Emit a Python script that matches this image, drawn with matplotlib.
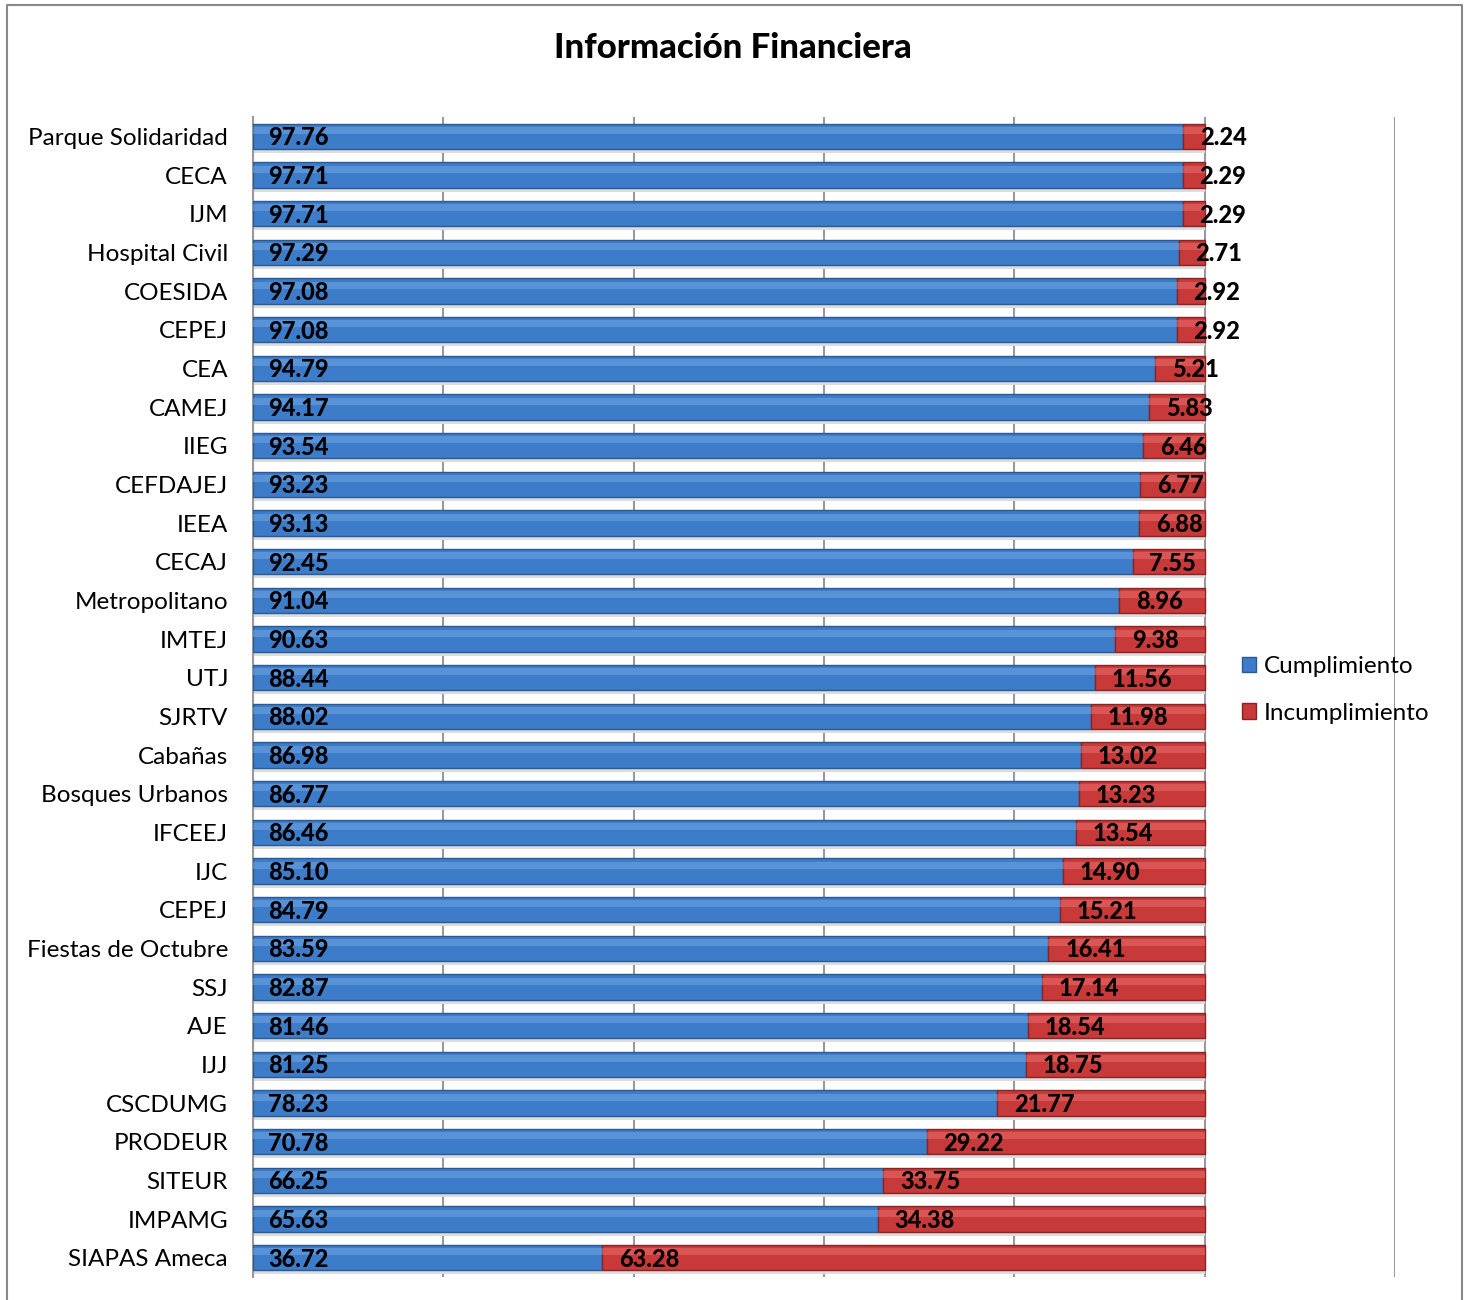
import matplotlib.pyplot as plt
from matplotlib.patches import Rectangle
from matplotlib.lines import Line2D

# data
entidades = ["Parque Solidaridad", "CECA", "IJM", "Hospital Civil", "COESIDA", "CEPEJ",
             "CEA", "CAMEJ", "IIEG", "CEFDAJEJ", "IEEA", "CECAJ", "Metropolitano",
             "IMTEJ", "UTJ", "SJRTV", "Cabañas", "Bosques Urbanos", "IFCEEJ", "IJC",
             "CEPEJ", "Fiestas de Octubre", "SSJ", "AJE", "IJJ", "CSCDUMG", "PRODEUR",
             "SITEUR", "IMPAMG", "SIAPAS Ameca"]
cumplimiento = [97.76, 97.71, 97.71, 97.29, 97.08, 97.08, 94.79, 94.17, 93.54, 93.23,
                93.13, 92.45, 91.04, 90.63, 88.44, 88.02, 86.98, 86.77, 86.46, 85.10,
                84.79, 83.59, 82.87, 81.46, 81.25, 78.23, 70.78, 66.25, 65.63, 36.72]
incumplimiento = [2.24, 2.29, 2.29, 2.71, 2.92, 2.92, 5.21, 5.83, 6.46, 6.77,
                  6.88, 7.55, 8.96, 9.38, 11.56, 11.98, 13.02, 13.23, 13.54, 14.90,
                  15.21, 16.41, 17.14, 18.54, 18.75, 21.77, 29.22, 33.75, 34.38, 63.28]

plt.rcParams['font.family'] = ['Lato', 'DejaVu Sans']

blue, blue_hi, blue_edge = "#3D7CC9", "#79B0EC", "#2A5A94"
red, red_hi, red_edge = "#C8393A", "#EE7A78", "#8A2424"

fig = plt.figure(figsize=(14.68, 13.0), dpi=100)
ax = fig.add_axes([253 / 1468, 1 - 1277 / 1300, (1395 - 253) / 1468, (1277 - 117) / 1300])

y = list(range(len(entidades)))
h = 0.66

# shadow under each bar
ax.barh([v + 0.1 for v in y], [c + i for c, i in zip(cumplimiento, incumplimiento)],
        height=h, color="#dcdcdc", zorder=2)
ax.barh(y, cumplimiento, height=h, color=blue, edgecolor=blue_edge, linewidth=1,
        zorder=3, label="Cumplimiento")
ax.barh(y, incumplimiento, left=cumplimiento, height=h, color=red, edgecolor=red_edge,
        linewidth=1, zorder=3, label="Incumplimiento")
# highlight band for a glossy look
ax.barh([v - 0.15 for v in y], cumplimiento, height=0.18, color=blue_hi, alpha=0.45,
        linewidth=0, zorder=4)
ax.barh([v - 0.15 for v in y], incumplimiento, left=cumplimiento, height=0.18,
        color=red_hi, alpha=0.45, linewidth=0, zorder=4)

for yi, c, i in zip(y, cumplimiento, incumplimiento):
    ax.annotate(f"{c:.2f}", (0, yi), xytext=(11, -1), textcoords="offset points",
                ha="left", va="center", fontsize=17, fontweight="black", zorder=6)
    ax.annotate(f"{i:.2f}", (c, yi), xytext=(12, -1), textcoords="offset points",
                ha="left", va="center", fontsize=17, fontweight="black", zorder=6)

ax.set_xlim(0, 120)
ax.set_ylim(len(entidades) - 0.5, -0.5)
ax.set_xticks(range(0, 121, 20))
ax.set_xticklabels([])
ax.tick_params(axis="x", length=0)
ax.set_yticks(y)
ax.set_yticklabels(entidades, fontsize=17.5)
ax.tick_params(axis="y", length=0, pad=18)
ax.grid(True, axis="x", color="#999999", linewidth=1.5, zorder=1)
ax.set_axisbelow(True)
for s in ["top", "right", "bottom"]:
    ax.spines[s].set_visible(False)
ax.spines["left"].set_color("#999999")
ax.spines["left"].set_linewidth(1.5)

handles = [Rectangle((0, 0), 1, 1, facecolor=blue, edgecolor=blue_edge),
           Rectangle((0, 0), 1, 1, facecolor=red, edgecolor=red_edge)]
fig.legend(handles, ["Cumplimiento", "Incumplimiento"], loc="center left",
           bbox_to_anchor=(1220 / 1468, 1 - 690 / 1300), frameon=False, fontsize=17.5,
           handlelength=0.6, handleheight=0.6, handletextpad=0.3, labelspacing=1.05)

fig.suptitle("Información Financiera", x=733 / 1468, y=1 - 48 / 1300, va="center",
             fontsize=25, fontweight="black")

fig.add_artist(Line2D([7 / 1468, 7 / 1468, 1462 / 1468, 1462 / 1468],
                      [0, 1 - 5 / 1300, 1 - 5 / 1300, 0], color="#888888", linewidth=1.5))

fig.savefig("out.png", dpi=100)
